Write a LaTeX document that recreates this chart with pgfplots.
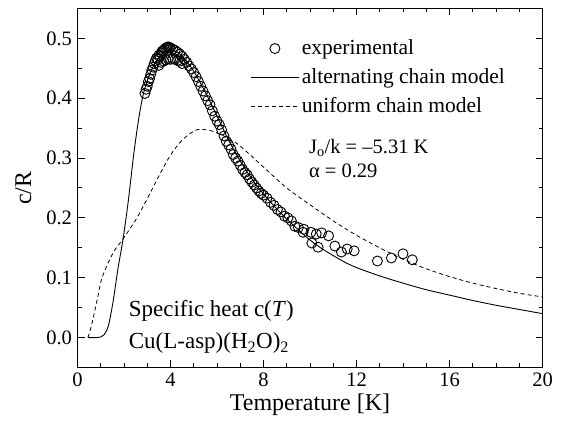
\documentclass[border=0pt]{standalone}
\usepackage{fontspec}
\setmainfont{Liberation Serif}
\usepackage{pgfplots}
\pgfplotsset{compat=1.18}
\pgfplotsset{
  circlegend/.style={legend image code/.code={\draw[#1] plot coordinates {(24pt,0pt)};}},
  linelegend/.style={legend image code/.code={\draw[#1] (0pt,0pt) -- (48pt,0pt);}},
}
\begin{document}
\begin{tikzpicture}[font=\fontsize{20.5}{23}\selectfont]
\begin{axis}[
  scale only axis, width=465pt, height=359pt,
  xmin=0, xmax=20, ymin=-0.05, ymax=0.55,
  xtick={0,4,8,12,16,20}, ytick={0,0.1,0.2,0.3,0.4,0.5},
  minor x tick num=3, minor y tick num=1,
  tick align=inside, major tick length=7pt, minor tick length=4pt,
  every tick/.style={black, line width=1pt},
  axis line style={line width=1.5pt},
  yticklabel style={xshift=-2pt, /pgf/number format/.cd, fixed, fixed zerofill, precision=1},
  /pgf/number format/assume math mode=true,
  tick label style={font=\fontsize{20.5}{23}\selectfont},
  xticklabel style={yshift=-2pt},
  xlabel={Temperature [K]}, ylabel={c/R},
  label style={font=\fontsize{24}{27}\selectfont},
  xlabel style={yshift=0pt},
  ylabel style={yshift=8pt},
  legend cell align=left,
  legend style={at={(axis cs:7.3,0.511)}, anchor=north west, draw=none, fill=none,
    font=\fontsize{21.5}{24}\selectfont, row sep=0pt,
    nodes={inner sep=2.5pt, text height=18pt, text depth=6pt}},
]
\addplot[only marks, mark=o, mark size=5pt, black, line width=0.9pt, circlegend]
coordinates {
(2.90,0.408) (2.95,0.415) (3.00,0.420) (3.05,0.428) (3.10,0.433) (3.15,0.440)
(3.20,0.447) (3.25,0.452) (3.30,0.458) (3.35,0.463) (3.40,0.467) (3.45,0.465)
(3.50,0.472) (3.55,0.470) (3.60,0.476) (3.65,0.479) (3.70,0.480) (3.75,0.482)
(3.80,0.484) (3.85,0.485) (3.90,0.486) (3.95,0.485) (4.00,0.484)
(3.50,0.455) (3.60,0.460) (3.70,0.462) (3.80,0.464) (3.90,0.466) (4.00,0.465)
(4.10,0.466) (4.20,0.465) (4.30,0.463) (4.40,0.462) (4.50,0.458)
(4.10,0.482) (4.20,0.480) (4.30,0.477) (4.40,0.474) (4.50,0.470) (4.60,0.465)
(4.70,0.460) (4.80,0.454) (4.90,0.449) (5.00,0.443) (5.10,0.436) (5.20,0.428)
(5.30,0.420) (5.40,0.412) (5.50,0.404) (5.60,0.396) (5.70,0.389) (5.80,0.379)
(5.90,0.370) (6.00,0.362) (6.10,0.356) (6.20,0.347) (6.30,0.337) (6.40,0.328)
(6.50,0.322) (6.60,0.315) (6.70,0.306) (6.80,0.300) (6.90,0.295) (7.00,0.288)
(7.10,0.281) (7.20,0.276) (7.30,0.272) (7.40,0.265) (7.50,0.260) (7.60,0.255)
(7.70,0.250) (7.80,0.245) (7.90,0.241) (8.00,0.238) (8.15,0.233) (8.30,0.226)
(8.45,0.221) (8.60,0.214) (8.75,0.210) (8.90,0.203) (9.05,0.200) (9.20,0.195)
(9.35,0.186) (9.50,0.184)
(9.70,0.176) (9.74,0.181) (10.04,0.176) (10.27,0.173) (10.50,0.175) (10.80,0.170)
(10.08,0.158) (10.35,0.151) (11.07,0.153) (11.35,0.143) (11.60,0.148) (11.90,0.145)
(12.90,0.128) (13.50,0.133) (14.00,0.140) (14.40,0.130)
};
\addlegendentry{experimental}
\addplot[black, line width=0.9pt, smooth, tension=0.5, no marks, linelegend]
coordinates {
(0.45,0.0) (0.8,0.0) (1.0,0.001) (1.15,0.005) (1.33,0.02) (1.53,0.06) (1.74,0.115)
(1.96,0.165) (2.18,0.227) (2.43,0.31) (2.65,0.37) (2.85,0.41) (3.1,0.44) (3.4,0.463)
(3.7,0.476) (4.0,0.48) (4.3,0.477) (4.6,0.466) (5.0,0.445) (5.5,0.41) (6.0,0.37)
(6.5,0.33) (7.0,0.295) (7.5,0.265) (8.0,0.24) (8.5,0.218) (9.0,0.198) (9.5,0.18)
(10,0.163) (10.5,0.149) (11,0.137) (11.5,0.126) (12,0.117) (13,0.103) (14,0.091)
(15,0.080) (16,0.071) (17,0.062) (18,0.054) (19,0.047) (20,0.040)
};
\addlegendentry{alternating chain model}
\addplot[black, line width=0.8pt, dash pattern=on 4pt off 3pt, smooth, tension=0.5, no marks, linelegend]
coordinates {
(0.45,0.0) (0.6,0.02) (0.83,0.06) (1.04,0.098) (1.33,0.126) (1.6,0.146) (1.96,0.165)
(2.54,0.199) (3.0,0.232) (3.5,0.270) (4.0,0.305) (4.5,0.330) (5.0,0.345) (5.3,0.348)
(5.8,0.345) (6.5,0.333) (7.0,0.320) (8.0,0.285) (9.0,0.250) (10,0.222) (11,0.195)
(12,0.171) (13,0.150) (14,0.131) (15,0.115) (16,0.102) (17,0.091) (18,0.082)
(19,0.074) (20,0.068)
};
\addlegendentry{uniform chain model}
\node[anchor=west, inner sep=0pt] at (axis cs:9.95,0.317) {J\textsubscript{o}/k = –5.31 K};
\node[anchor=west, inner sep=0pt] at (axis cs:9.95,0.278) {α = 0.29};
\node[anchor=base west, inner sep=0pt, font=\fontsize{23}{30}\selectfont]
  at (axis cs:2.2,0.036) {Specific heat c(\textit{T})};
\node[anchor=base west, inner sep=0pt, font=\fontsize{23}{30}\selectfont]
  at (axis cs:2.2,-0.018) {Cu(L-asp)(H\textsubscript{2}O)\textsubscript{2}};
\end{axis}
\pgfresetboundingbox
\path ([xshift=-77.5pt,yshift=-55pt]current axis.south west) rectangle ([xshift=19.5pt,yshift=8.5pt]current axis.north east);
\end{tikzpicture}
\end{document}
